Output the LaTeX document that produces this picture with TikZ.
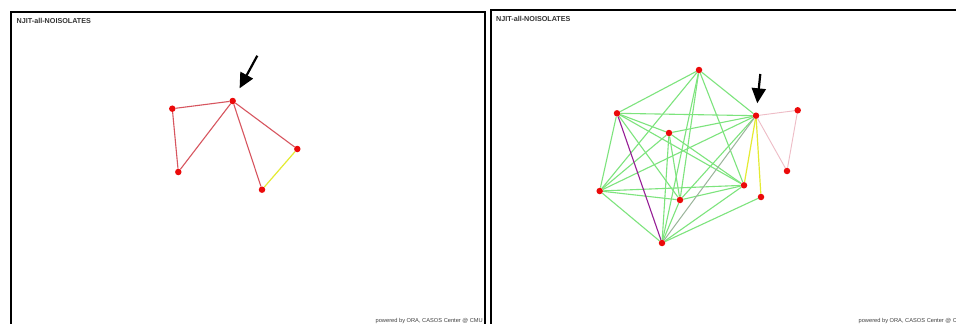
\documentclass[tikz,border=0pt]{standalone}
\usepackage{fontspec}
\setmainfont{Liberation Sans}
\usetikzlibrary{arrows.meta}
\pgfdeclarelayer{bg}
\pgfdeclarelayer{edges}
\pgfsetlayers{bg,edges,main}
\definecolor{edgered}{RGB}{215,85,95}
\definecolor{edgegreen}{RGB}{125,228,125}
\definecolor{edgeyellow}{RGB}{228,235,50}
\definecolor{edgepurple}{RGB}{150,30,150}
\definecolor{edgegray}{RGB}{155,180,155}
\definecolor{edgepink}{RGB}{238,188,198}
\definecolor{dotred}{RGB}{235,10,10}
\tikzset{
  dot/.style={circle,fill=dotred,inner sep=0pt,minimum size=6.5pt},
  redge/.style={draw=edgered,line width=1.1pt},
  gedge/.style={draw=edgegreen,line width=1.1pt},
  yedge/.style={draw=edgeyellow,line width=1.2pt},
  pedge/.style={draw=edgepurple,line width=1.1pt},
  grayedge/.style={draw=edgegray,line width=1pt},
  pinkedge/.style={draw=edgepink,line width=0.9pt},
  frame/.style={draw=black,line width=2pt},
  pointer/.style={draw=black,line width=2.2pt,-{Triangle[length=15pt,width=14pt]}},
  titletext/.style={anchor=base west,inner sep=0pt,font=\bfseries\fontsize{7.2}{8}\selectfont,text=black!80},
  foottext/.style={anchor=base east,inner sep=0pt,font=\fontsize{5.7}{6}\selectfont,text=black!75}
}
\begin{document}
\begin{tikzpicture}[x=1pt,y=-1pt]
\useasboundingbox (0,0) rectangle (956,324);
\clip (0,0) rectangle (956,324);
\begin{pgfonlayer}{bg}
\fill[white] (0,0) rectangle (956,324);
\end{pgfonlayer}
% frames
\draw[frame] (11,12) rectangle (485,340);
\draw[frame] (491,10) rectangle (975,340);
% titles and footers
\node[titletext] (t1) at (16.5,23.5) {NJIT-all-NOISOLATES};
\node[titletext] (t2) at (496,21.5) {NJIT-all-NOISOLATES};
\node[foottext] (f1) at (483,322) {powered by ORA, CASOS Center @ CMU};
\node[foottext] (f2) at (966,322) {powered by ORA, CASOS Center @ CMU};
% left network
\node[dot] (a) at (232.7,101) {};
\node[dot] (b) at (172.3,108.7) {};
\node[dot] (c) at (178.3,172) {};
\node[dot] (d) at (297.3,149) {};
\node[dot] (e) at (262,189.7) {};
\begin{pgfonlayer}{edges}
\draw[redge] (b) -- (a);
\draw[redge] (b) -- (c);
\draw[redge] (c) -- (a);
\draw[redge] (a) -- (e);
\draw[redge] (a) -- (d);
\draw[yedge] (e) -- (d);
\end{pgfonlayer}
\coordinate (pl) at (257.3,55.7);
\draw[pointer,shorten >=11pt] (pl) -- (a);
% right network
\node[dot] (n1) at (699,70) {};
\node[dot] (n2) at (617,113.3) {};
\node[dot] (n3) at (669,133) {};
\node[dot] (n4) at (756,115.7) {};
\node[dot] (n5) at (797.7,110.3) {};
\node[dot] (n6) at (787,171) {};
\node[dot] (n7) at (599.7,191) {};
\node[dot] (n8) at (680,200) {};
\node[dot] (n9) at (744,185.3) {};
\node[dot] (n10) at (761,197) {};
\node[dot] (n11) at (662,243) {};
\begin{pgfonlayer}{edges}
\foreach \u/\v in {n1/n2,n1/n4,n1/n7,n1/n8,n1/n9,n1/n11,
  n2/n3,n2/n4,n2/n7,n2/n8,n2/n9,
  n3/n4,n3/n7,n3/n8,n3/n9,n3/n11,
  n4/n7,n4/n8,
  n7/n8,n7/n9,n7/n11,
  n8/n9,n8/n11,n9/n11,n10/n11}
  \draw[gedge] (\u) -- (\v);
\draw[grayedge] (n4) -- (n11);
\draw[pedge] (n2) -- (n11);
\draw[yedge] (n4) -- (n9);
\draw[yedge] (n4) -- (n10);
\draw[pinkedge] (n4) -- (n5);
\draw[pinkedge] (n5) -- (n6);
\draw[pinkedge] (n4) -- (n6);
\end{pgfonlayer}
\coordinate (pr) at (760.3,74);
\draw[pointer,shorten >=9pt] (pr) -- (n4);
\end{tikzpicture}
\end{document}
